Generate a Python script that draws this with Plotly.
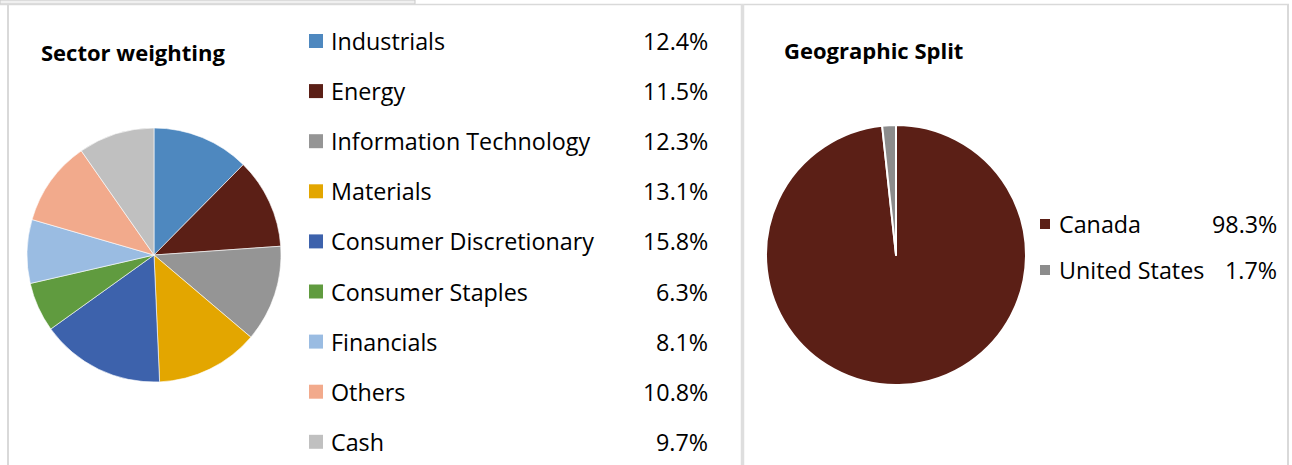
import plotly.graph_objects as go

W, H = 1292, 465

sectors = ["Industrials", "Energy", "Information Technology", "Materials",
           "Consumer Discretionary", "Consumer Staples", "Financials", "Others", "Cash"]
sector_pct = [12.4, 11.5, 12.3, 13.1, 15.8, 6.3, 8.1, 10.8, 9.7]
sector_colors = ["#4E88BF", "#5B1F16", "#959595", "#E3A600", "#3D62AC",
                 "#609B3F", "#9ABCE2", "#F2AA8C", "#C0C0C0"]

regions = ["Canada", "United States"]
region_pct = [98.3, 1.7]
region_colors = ["#5B1F16", "#8C8C8C"]

FONT = "Open Sans"
FS = 23.3


def px(x):
    return x / W


def py(y):
    return 1 - y / H


fig = go.Figure()

fig.add_trace(go.Pie(
    labels=sectors, values=sector_pct, sort=False, direction="clockwise", rotation=0,
    marker=dict(colors=sector_colors, line=dict(color="white", width=0.6)),
    textinfo="none", hoverinfo="label+percent", showlegend=False,
    domain=dict(x=[px(27), px(281)], y=[py(382), py(128)]),
))

fig.add_trace(go.Pie(
    labels=regions, values=region_pct, sort=False, direction="clockwise", rotation=0,
    marker=dict(colors=region_colors, line=dict(color="white", width=2)),
    textinfo="none", hoverinfo="label+percent", showlegend=False,
    domain=dict(x=[px(766), px(1026)], y=[py(385), py(125)]),
))

shapes = []
annotations = []

# panel borders
border = "#D9D9D9"
shapes.append(dict(type="rect", xref="paper", yref="paper", x0=px(0), x1=px(415), y0=py(4), y1=py(0),
                   line=dict(color="#C8C8C8", width=1), fillcolor="#F0F0F0"))
shapes.append(dict(type="line", xref="paper", yref="paper", x0=px(0), x1=px(1289), y0=py(4.5), y1=py(4.5),
                   line=dict(color=border, width=1.5)))
shapes.append(dict(type="line", xref="paper", yref="paper", x0=px(8), x1=px(8), y0=py(4), y1=0,
                   line=dict(color=border, width=2)))
shapes.append(dict(type="line", xref="paper", yref="paper", x0=px(742.5), x1=px(742.5), y0=py(4), y1=0,
                   line=dict(color="#DEDEDE", width=3.5)))
shapes.append(dict(type="line", xref="paper", yref="paper", x0=px(1288), x1=px(1288), y0=py(4), y1=0,
                   line=dict(color=border, width=2)))

# titles
annotations.append(dict(text="<b>Sector weighting</b>", x=px(39), y=py(52), xref="paper", yref="paper",
                        xanchor="left", yanchor="middle", showarrow=False,
                        font=dict(family=FONT, size=22, color="#000000")))
annotations.append(dict(text="<b>Geographic Split</b>", x=px(782), y=py(50), xref="paper", yref="paper",
                        xanchor="left", yanchor="middle", showarrow=False,
                        font=dict(family=FONT, size=22, color="#000000")))

# left legend
for i, (lab, val, col) in enumerate(zip(sectors, sector_pct, sector_colors)):
    yc = 41 + i * 50.1
    shapes.append(dict(type="rect", xref="paper", yref="paper", x0=px(309), x1=px(323),
                       y0=py(yc + 7), y1=py(yc - 7), fillcolor=col, line=dict(width=0)))
    annotations.append(dict(text=lab, x=px(329), y=py(yc), xref="paper", yref="paper",
                            xanchor="left", yanchor="middle", showarrow=False,
                            font=dict(family=FONT, size=FS, color="#000000")))
    annotations.append(dict(text=f"{val:.1f}%", x=px(710), y=py(yc), xref="paper", yref="paper",
                            xanchor="right", yanchor="middle", showarrow=False,
                            font=dict(family=FONT, size=FS, color="#000000")))

# right legend
for i, (lab, val, col) in enumerate(zip(regions, region_pct, region_colors)):
    yc = 224 + i * 46
    shapes.append(dict(type="rect", xref="paper", yref="paper", x0=px(1040), x1=px(1050),
                       y0=py(yc + 5), y1=py(yc - 5), fillcolor=col, line=dict(width=0)))
    annotations.append(dict(text=lab, x=px(1057), y=py(yc), xref="paper", yref="paper",
                            xanchor="left", yanchor="middle", showarrow=False,
                            font=dict(family=FONT, size=FS, color="#000000")))
    annotations.append(dict(text=f"{val:.1f}%", x=px(1279), y=py(yc), xref="paper", yref="paper",
                            xanchor="right", yanchor="middle", showarrow=False,
                            font=dict(family=FONT, size=FS, color="#000000")))

fig.update_layout(
    width=W, height=H, margin=dict(l=0, r=0, t=0, b=0),
    paper_bgcolor="white", plot_bgcolor="white",
    shapes=shapes, annotations=annotations, showlegend=False,
)

fig.write_html("out.html")
